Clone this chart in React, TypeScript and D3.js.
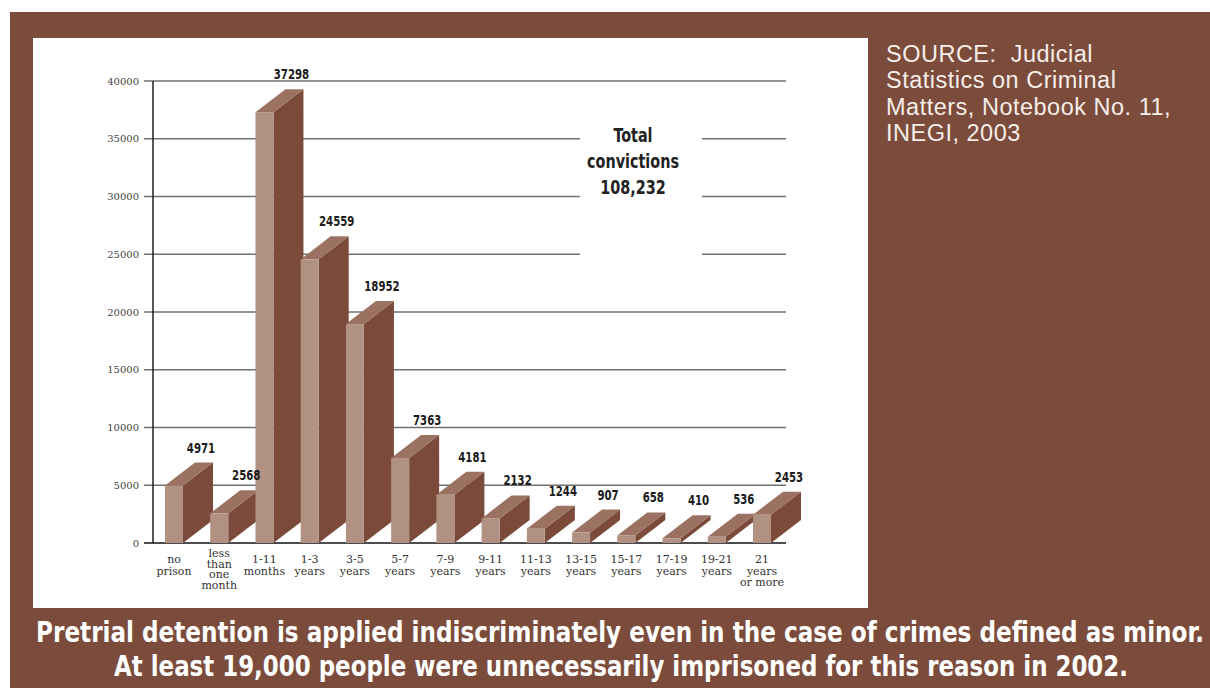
import React from "react";
import * as d3 from "d3";

const categories: string[][] = [
  ["no", "prison"],
  ["less", "than", "one", "month"],
  ["1-11", "months"],
  ["1-3", "years"],
  ["3-5", "years"],
  ["5-7", "years"],
  ["7-9", "years"],
  ["9-11", "years"],
  ["11-13", "years"],
  ["13-15", "years"],
  ["15-17", "years"],
  ["17-19", "years"],
  ["19-21", "years"],
  ["21", "years", "or more"],
];
const values: number[] = [4971, 2568, 37298, 24559, 18952, 7363, 4181, 2132, 1244, 907, 658, 410, 536, 2453];
const yTicks: number[] = [0, 5000, 10000, 15000, 20000, 25000, 30000, 35000, 40000];
const brokenTicks: number[] = [25000, 30000, 35000];
const totalLines: string[] = ["Total", "convictions", "108,232"];
const sourceLines: string[] = ["SOURCE:  Judicial", "Statistics on Criminal", "Matters, Notebook No. 11,", "INEGI, 2003"];
const footerLines: string[] = [
  "Pretrial detention is applied indiscriminately even in the case of crimes defined as minor.",
  "At least 19,000 people were unnecessarily imprisoned for this reason in 2002.",
];

const BROWN = "#7b4b3b";
const FRONT = "#b09182";
const SIDE = "#7b4a3a";
const TOP = "#9b7262";
const NARROW = "'Liberation Sans Narrow', 'Arial Narrow', 'DejaVu Sans Condensed', sans-serif";
const SERIF = "'DejaVu Serif', serif";

export default function App() {
  const W = 1210, H = 688;
  const axisX = 153, gridRight = 786;
  const y = d3.scaleLinear().domain([0, 40000]).range([543, 81]);
  const idx = categories.map((_, i) => String(i));
  const x = d3.scalePoint<string>().domain(idx).range([165, 753]);
  const bw = 18, dx = 30, dy = 23;
  const gapL = 580, gapR = 702;

  return (
    <svg width={W} height={H} style={{ position: "absolute", left: 0, top: 0 }}>
      <rect x={10} y={12} width={W - 10} height={H - 12} fill={BROWN} />
      <rect x={33} y={38} width={835} height={570} fill="#ffffff" />

      {/* grid lines */}
      {yTicks.filter((t) => t > 0).map((t) =>
        brokenTicks.includes(t) ? (
          <g key={t}>
            <line x1={144} x2={gapL} y1={y(t)} y2={y(t)} stroke="#707070" strokeWidth={1.4} />
            <line x1={gapR} x2={gridRight} y1={y(t)} y2={y(t)} stroke="#707070" strokeWidth={1.4} />
          </g>
        ) : (
          <line key={t} x1={144} x2={gridRight} y1={y(t)} y2={y(t)} stroke="#707070" strokeWidth={1.4} />
        )
      )}
      {yTicks.map((t) => (
        <text key={"t" + t} x={139} y={y(t) + 3.5} textAnchor="end" fontFamily={SERIF} fontSize={10} fill="#444">
          {t}
        </text>
      ))}
      <line x1={axisX} x2={axisX} y1={y(40000)} y2={y(0)} stroke="#111" strokeWidth={1.4} />
      <line x1={144} x2={gridRight} y1={y(0)} y2={y(0)} stroke="#111" strokeWidth={1.4} />

      {/* bars */}
      {values.map((v, i) => {
        const x0 = x(String(i)) as number;
        const yt = y(v), yb = y(0);
        const side = `M${x0 + bw},${yt} L${x0 + bw + dx},${yt - dy} L${x0 + bw + dx},${yb - dy} L${x0 + bw},${yb} Z`;
        const top = `M${x0},${yt} L${x0 + dx},${yt - dy} L${x0 + bw + dx},${yt - dy} L${x0 + bw},${yt} Z`;
        return (
          <g key={i}>
            <path d={side} fill={SIDE} />
            <path d={top} fill={TOP} />
            <rect x={x0} y={yt} width={bw} height={yb - yt} fill={FRONT} />
          </g>
        );
      })}

      {/* value labels */}
      {values.map((v, i) => {
        const x0 = x(String(i)) as number;
        const lx = x0 + dx + bw / 2 - 3;
        const ly = y(v) - dy - 10;
        return (
          <text key={"v" + i} transform={`translate(${lx},${ly}) scale(1,1.25)`} textAnchor="middle" fontFamily={NARROW} fontWeight="bold" fontSize={11.3} fill="#1a1a1a">
            {v}
          </text>
        );
      })}

      {/* category labels */}
      {categories.map((lines, i) => {
        const cx = (x(String(i)) as number) + bw / 2;
        const first = lines.length > 3 ? 557 : 563;
        const lh = lines.length > 3 ? 10.7 : 11.5;
        return (
          <text key={"c" + i} textAnchor="middle" fontFamily={SERIF} fontSize={11} fill="#333">
            {lines.map((l, j) => (
              <tspan key={j} x={cx} y={first + j * lh}>
                {l}
              </tspan>
            ))}
          </text>
        );
      })}

      {/* total annotation */}
      {totalLines.map((l, j) => (
        <text key={"tot" + j} transform={`translate(633,${142 + j * 26}) scale(1,1.2)`} textAnchor="middle" fontFamily={NARROW} fontWeight="bold" fontSize={16} fill="#222">
          {l}
        </text>
      ))}

      {/* source */}
      {sourceLines.map((l, j) => (
        <text key={"s" + j} x={886} y={62 + j * 26.3} fontFamily="'Liberation Sans', Arial, sans-serif" fontSize={23.5} letterSpacing={0.5} fill="#f6eee9" style={{ whiteSpace: "pre" }}>
          {l}
        </text>
      ))}

      {/* footer */}
      <text transform="translate(620,642) scale(1,1.25)" textAnchor="middle" fontFamily={NARROW} fontWeight="bold" fontSize={22.5} fill="#ffffff" textLength={1168} lengthAdjust="spacingAndGlyphs">
        {footerLines[0]}
      </text>
      <text transform="translate(621,676) scale(1,1.25)" textAnchor="middle" fontFamily={NARROW} fontWeight="bold" fontSize={22.5} fill="#ffffff" textLength={1014} lengthAdjust="spacingAndGlyphs">
        {footerLines[1]}
      </text>
    </svg>
  );
}
